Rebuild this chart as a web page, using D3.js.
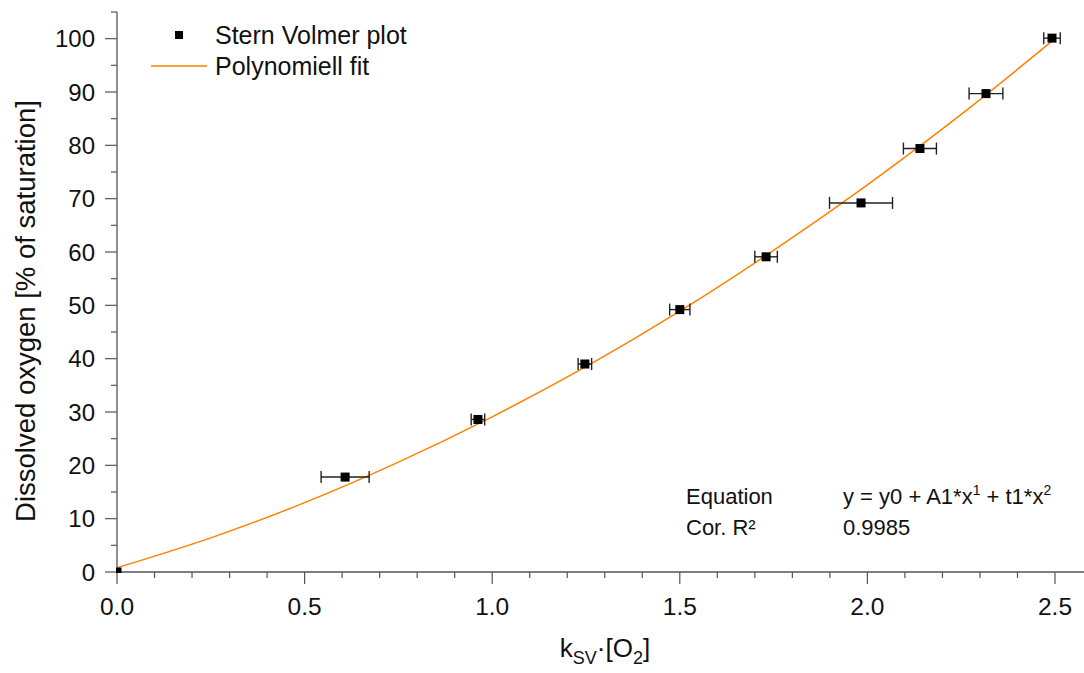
<!DOCTYPE html>
<html><head><meta charset="utf-8">
<script src="https://cdn.jsdelivr.net/npm/d3@7"></script>
<style>body{margin:0;background:#fff}svg{display:block;font-family:"Liberation Sans",Arial,sans-serif}</style>
</head><body><svg id="c" width="1084" height="673"></svg>
<script>
const pointsX = [0.0, 0.608, 0.962, 1.247, 1.50, 1.73, 1.983, 2.14, 2.316, 2.492];
const pointsY = [0.0, 17.8, 28.6, 39.0, 49.2, 59.1, 69.2, 79.4, 89.7, 100.1];
const errX    = [0.0, 0.064, 0.018, 0.018, 0.027, 0.03, 0.084, 0.044, 0.045, 0.022];
const fitX = [0, 0.25, 0.5, 0.75, 1.0, 1.25, 1.5, 1.75, 2.0, 2.25, 2.5];
const fitY = [0.8, 6.4, 13.0, 20.6, 29.1, 38.5, 48.9, 60.3, 72.6, 85.8, 100.0];
const xTicks = [0.0, 0.5, 1.0, 1.5, 2.0, 2.5];
const yTicks = [0, 10, 20, 30, 40, 50, 60, 70, 80, 90, 100];
const seriesNames = ["Stern Volmer plot", "Polynomiell fit"];
const eqLabels = ["Equation", "Cor. R²"];
const r2Value = "0.9985";

const svg = d3.select("#c");
const x = d3.scaleLinear().domain([0, 2.5]).range([117, 1055]);
const y = d3.scaleLinear().domain([0, 105]).range([572, 12]);
const orange = "#FF8000";
const axisCol = "#555";

svg.append("clipPath").attr("id","plot").append("rect").attr("x",116).attr("y",0).attr("width",968).attr("height",573);

// axes
const gx = svg.append("g").attr("transform","translate(0,572)");
gx.append("line").attr("x1",117).attr("x2",1084).attr("stroke",axisCol).attr("stroke-width",1.3);
const xMinor = d3.range(0, 2.61, 0.1).filter(v => Math.abs(v*2 - Math.round(v*2))>1e-6);
gx.selectAll(".xm").data(xMinor).join("line").attr("x1",d=>x(d)).attr("x2",d=>x(d)).attr("y1",0).attr("y2",6).attr("stroke",axisCol).attr("stroke-width",1.2);
gx.selectAll(".xM").data(xTicks).join("line").attr("x1",d=>x(d)).attr("x2",d=>x(d)).attr("y1",0).attr("y2",12).attr("stroke",axisCol).attr("stroke-width",1.2);
gx.selectAll(".xl").data(xTicks).join("text").attr("x",d=>x(d)).attr("y",43).attr("text-anchor","middle").attr("font-size",24.5).attr("fill","#111").text(d=>d.toFixed(1));

const gy = svg.append("g");
gy.append("line").attr("x1",117).attr("x2",117).attr("y1",12).attr("y2",572).attr("stroke",axisCol).attr("stroke-width",1.3);
const yMinor = d3.range(5, 106, 10);
gy.selectAll(".ym").data(yMinor).join("line").attr("x1",111).attr("x2",117).attr("y1",d=>y(d)).attr("y2",d=>y(d)).attr("stroke",axisCol).attr("stroke-width",1.2);
gy.selectAll(".yM").data(yTicks).join("line").attr("x1",105).attr("x2",117).attr("y1",d=>y(d)).attr("y2",d=>y(d)).attr("stroke",axisCol).attr("stroke-width",1.2);
gy.selectAll(".yl").data(yTicks).join("text").attr("x",95).attr("y",d=>y(d)+8.5).attr("text-anchor","end").attr("font-size",24).attr("fill","#111").text(d=>d);

// axis titles
svg.append("text").attr("transform","translate(35,311) rotate(-90)").attr("text-anchor","middle").attr("font-size",27.5).attr("fill","#111").text("Dissolved oxygen [% of saturation]");
const xt = svg.append("text").attr("x",605).attr("y",657).attr("text-anchor","middle").attr("font-size",26).attr("fill","#111");
xt.append("tspan").text("k");
xt.append("tspan").attr("font-size",18).attr("dy",7).text("SV");
xt.append("tspan").attr("dy",-7).text("·[O");
xt.append("tspan").attr("font-size",18).attr("dy",7).text("2");
xt.append("tspan").attr("dy",-7).text("]");

// fit curve
const line = d3.line().x(d=>x(d[0])).y(d=>y(d[1])).curve(d3.curveMonotoneX);
svg.append("path").datum(fitX.map((v,i)=>[v,fitY[i]])).attr("d",line).attr("fill","none").attr("stroke",orange).attr("stroke-width",1.5);

// error bars and points
const pts = pointsX.map((v,i)=>({x:v,y:pointsY[i],e:errX[i]}));
const eb = svg.append("g").attr("stroke","#222").attr("stroke-width",1.4);
pts.filter(d=>d.e>0).forEach(d=>{
  eb.append("line").attr("x1",x(d.x-d.e)).attr("x2",x(d.x+d.e)).attr("y1",y(d.y)).attr("y2",y(d.y));
  eb.append("line").attr("x1",x(d.x-d.e)).attr("x2",x(d.x-d.e)).attr("y1",y(d.y)-6).attr("y2",y(d.y)+6);
  eb.append("line").attr("x1",x(d.x+d.e)).attr("x2",x(d.x+d.e)).attr("y1",y(d.y)-6).attr("y2",y(d.y)+6);
});
svg.append("g").attr("clip-path","url(#plot)").selectAll(".pt").data(pts).join("rect").attr("x",d=>x(d.x)-4.5).attr("y",d=>y(d.y)-4.5).attr("width",9).attr("height",9).attr("fill","#000");

// legend
svg.append("rect").attr("x",175).attr("y",31).attr("width",8).attr("height",8).attr("fill","#000");
svg.append("text").attr("x",215).attr("y",43.5).attr("font-size",25).attr("fill","#111").text(seriesNames[0]);
svg.append("line").attr("x1",151).attr("x2",207).attr("y1",66).attr("y2",66).attr("stroke",orange).attr("stroke-width",1.5);
svg.append("text").attr("x",215).attr("y",75).attr("font-size",25).attr("fill","#111").text(seriesNames[1]);

// equation box
svg.append("text").attr("x",686).attr("y",504).attr("font-size",22).attr("fill","#111").text(eqLabels[0]);
svg.append("text").attr("x",686).attr("y",535).attr("font-size",22).attr("fill","#111").text(eqLabels[1]);
const eq = svg.append("text").attr("x",843).attr("y",504).attr("font-size",22).attr("fill","#111");
eq.append("tspan").text("y = y0 + A1*x");
eq.append("tspan").attr("font-size",14).attr("dy",-9).text("1");
eq.append("tspan").attr("dy",9).text(" + t1*x");
eq.append("tspan").attr("font-size",14).attr("dy",-9).text("2");
svg.append("text").attr("x",843).attr("y",535).attr("font-size",22).attr("fill","#111").text(r2Value);
</script></body></html>
